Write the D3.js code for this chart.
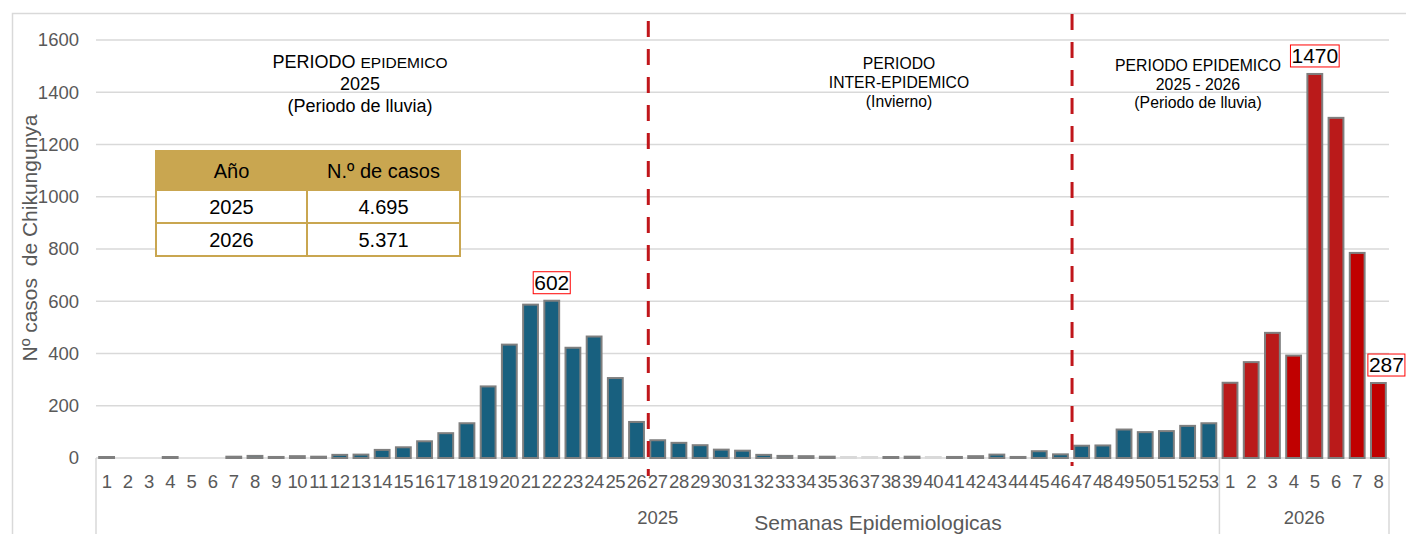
<!DOCTYPE html>
<html>
<head>
<meta charset="utf-8">
<script src="https://cdn.jsdelivr.net/npm/d3@7"></script>
<style>
  html, body { margin: 0; padding: 0; background: #fff; }
  svg { display: block; font-family: "Liberation Sans", Arial, sans-serif; }
</style>
</head>
<body>
<div id="chart"></div>
<script>
// casos semanales 2025 (SE 1-53) y 2026 (SE 1-8)
const weeks2025 = d3.range(1, 54);
const cases2025 = [3, 0, 0, 3, 0, 0, 5, 8, 4, 7, 5, 12, 13, 31, 41, 64, 95, 133, 274, 434,
  587, 602, 422, 465, 306, 138, 68, 58, 49, 32, 28, 12, 8, 7, 5, 2, 2, 3, 5, 1,
  4, 7, 13, 4, 26, 14, 47, 48, 109, 99, 103, 123, 133];
const weeks2026 = d3.range(1, 9);
const cases2026 = [288, 367, 479, 392, 1470, 1302, 785, 287];
const yTicks = [0, 200, 400, 600, 800, 1000, 1200, 1400, 1600];
const tableRows = [["2025", "4.695"], ["2026", "5.371"]];
const highlighted = ["2025-22", "2026-5", "2026-8"];
const brightRed = ["2026-4", "2026-7", "2026-8"];

const width = 1406;
const height = 534;

const bars = [
  ...weeks2025.map((w, i) => ({ year: 2025, week: w, value: cases2025[i] })),
  ...weeks2026.map((w, i) => ({ year: 2026, week: w, value: cases2026[i] }))
];
bars.forEach((d, i) => { d.i = i; d.key = d.year + "-" + d.week; });

const svg = d3.select("#chart").append("svg")
  .attr("width", width)
  .attr("height", height);

// borde del área del gráfico
svg.append("path")
  .attr("d", `M12.5,${height}V13.5H${width}`)
  .attr("fill", "none")
  .attr("stroke", "#d9d9d9")
  .attr("stroke-width", 1.5);

const x = d3.scaleBand()
  .domain(bars.map(d => d.i))
  .range([96, 1389])
  .paddingInner(0.3)
  .paddingOuter(0.15);

const y = d3.scaleLinear().domain([0, 1600]).range([458, 40]);

// grilla
svg.append("g")
  .selectAll("line")
  .data(yTicks)
  .join("line")
  .attr("x1", 96).attr("x2", 1389)
  .attr("y1", d => y(d)).attr("y2", d => y(d))
  .attr("stroke", "#d9d9d9")
  .attr("stroke-width", 1.5);

// eje y
const yAxis = svg.append("g")
  .attr("transform", "translate(79,0)")
  .call(d3.axisLeft(y).tickValues(yTicks).tickFormat(d3.format("d")).tickSize(0).tickPadding(0));
yAxis.select(".domain").remove();
yAxis.selectAll("text")
  .attr("font-size", 18.5)
  .attr("font-family", "Liberation Sans, Arial, sans-serif")
  .attr("fill", "#595959");

svg.append("text")
  .attr("transform", "translate(37,238) rotate(-90)")
  .attr("text-anchor", "middle")
  .attr("font-size", 21)
  .attr("fill", "#595959")
  .attr("xml:space", "preserve")
  .text("Nº casos  de Chikungunya");

// eje x multinivel
const groupEdges = [96, x(53) - x.step() * x.paddingInner() / 2, 1389];
svg.append("g")
  .selectAll("line")
  .data(groupEdges)
  .join("line")
  .attr("x1", d => d).attr("x2", d => d)
  .attr("y1", 458).attr("y2", 534)
  .attr("stroke", "#d9d9d9")
  .attr("stroke-width", 1.5);

svg.append("g")
  .selectAll("text")
  .data(bars)
  .join("text")
  .attr("x", d => x(d.i) + x.bandwidth() / 2)
  .attr("y", 488)
  .attr("text-anchor", "middle")
  .attr("font-size", 18.5)
  .attr("letter-spacing", -0.4)
  .attr("fill", "#595959")
  .text(d => d.week);

svg.append("text")
  .attr("x", (groupEdges[0] + groupEdges[1]) / 2)
  .attr("y", 524)
  .attr("text-anchor", "middle")
  .attr("font-size", 18.5)
  .attr("fill", "#595959")
  .text("2025");

svg.append("text")
  .attr("x", (groupEdges[1] + groupEdges[2]) / 2)
  .attr("y", 524)
  .attr("text-anchor", "middle")
  .attr("font-size", 18.5)
  .attr("fill", "#595959")
  .text("2026");

svg.append("text")
  .attr("x", 878)
  .attr("y", 530)
  .attr("text-anchor", "middle")
  .attr("font-size", 21)
  .attr("fill", "#595959")
  .text("Semanas Epidemiologicas");

// barras
svg.append("g")
  .selectAll("rect")
  .data(bars.filter(d => d.value > 0))
  .join("rect")
  .attr("x", d => x(d.i))
  .attr("y", d => Math.min(y(d.value), y(0) - 1))
  .attr("width", x.bandwidth())
  .attr("height", d => Math.max(1, y(0) - y(d.value)))
  .attr("fill", d => d.year === 2025 ? "#18607f" : (brightRed.includes(d.key) ? "#c00000" : "#ba1a1a"))
  .attr("stroke", d => d.value < 3 ? "#d9d9d9" : "#7f7f7f")
  .attr("stroke-width", 2);

// etiquetas destacadas (la última va corrida a la derecha)
const labels = svg.append("g")
  .selectAll("g")
  .data(bars.filter(d => highlighted.includes(d.key)))
  .join("g")
  .attr("transform", d => {
    const shift = d.key === "2026-8" ? 8 : 0;
    return `translate(${x(d.i) + x.bandwidth() / 2 + shift},${y(d.value) - 11})`;
  });

labels.append("text")
  .attr("text-anchor", "middle")
  .attr("font-size", 21)
  .attr("fill", "#000")
  .text(d => d.value);

labels.each(function () {
  const g = d3.select(this);
  const bb = g.select("text").node().getBBox();
  g.insert("rect", "text")
    .attr("x", bb.x - 1)
    .attr("y", bb.y + 1)
    .attr("width", bb.width + 2)
    .attr("height", bb.height - 1)
    .attr("fill", "#fff")
    .attr("stroke", "#ff0000")
    .attr("stroke-width", 1);
});

// líneas de separación de periodos
const splitLines = [
  { x: x(26) - 2, y1: 21, y2: 476 },
  { x: x(46) - x.step() * x.paddingInner() / 2 + 1, y1: 14, y2: 466 }
];
svg.append("g")
  .selectAll("line")
  .data(splitLines)
  .join("line")
  .attr("x1", d => d.x).attr("x2", d => d.x)
  .attr("y1", d => d.y1).attr("y2", d => d.y2)
  .attr("stroke", "#c0161b")
  .attr("stroke-width", 3)
  .attr("stroke-dasharray", "16,12");

// textos de periodos
const p1 = svg.append("text")
  .attr("text-anchor", "middle")
  .attr("fill", "#000");
const p1a = p1.append("tspan").attr("x", 360).attr("y", 68).attr("font-size", 18);
p1a.append("tspan").text("PERIODO ");
p1a.append("tspan").attr("font-size", 15.5).text("EPIDEMICO");
p1.append("tspan").attr("x", 360).attr("y", 90).attr("font-size", 18).text("2025");
p1.append("tspan").attr("x", 360).attr("y", 112).attr("font-size", 18).text("(Periodo de lluvia)");

const p2 = svg.append("text")
  .attr("text-anchor", "middle")
  .attr("font-size", 15.7)
  .attr("fill", "#000");
["PERIODO", "INTER-EPIDEMICO", "(Invierno)"].forEach((t, i) => {
  p2.append("tspan").attr("x", 899).attr("y", 69 + i * 19).text(t);
});

const p3 = svg.append("text")
  .attr("text-anchor", "middle")
  .attr("font-size", 15.8)
  .attr("fill", "#000");
["PERIODO EPIDEMICO", "2025 - 2026", "(Periodo de lluvia)"].forEach((t, i) => {
  p3.append("tspan").attr("x", 1198).attr("y", 71 + i * 18.5).text(t);
});

// tabla resumen
const tx = 156, ty = 151, colW = [151, 153], headH = 39, rowH = 33;
const gold = "#c9a650";
const table = svg.append("g");
table.append("rect")
  .attr("x", tx).attr("y", ty)
  .attr("width", colW[0] + colW[1]).attr("height", headH + rowH * tableRows.length)
  .attr("fill", "#fff");
table.append("rect")
  .attr("x", tx).attr("y", ty)
  .attr("width", colW[0] + colW[1]).attr("height", headH)
  .attr("fill", gold);
["Año", "N.º de casos"].forEach((t, c) => {
  table.append("text")
    .attr("x", tx + (c === 0 ? colW[0] / 2 : colW[0] + colW[1] / 2))
    .attr("y", ty + 27)
    .attr("text-anchor", "middle")
    .attr("font-size", 20)
    .attr("fill", "#000")
    .text(t);
});
tableRows.forEach((row, r) => {
  row.forEach((t, c) => {
    table.append("text")
      .attr("x", tx + (c === 0 ? colW[0] / 2 : colW[0] + colW[1] / 2))
      .attr("y", ty + headH + rowH * r + 24)
      .attr("text-anchor", "middle")
      .attr("font-size", 20)
      .attr("fill", "#000")
      .text(t);
  });
});
const tableLines = [
  [tx, ty + headH, tx + colW[0] + colW[1], ty + headH],
  [tx, ty + headH + rowH, tx + colW[0] + colW[1], ty + headH + rowH],
  [tx + colW[0], ty + headH, tx + colW[0], ty + headH + rowH * 2]
];
table.selectAll("line")
  .data(tableLines)
  .join("line")
  .attr("x1", d => d[0]).attr("y1", d => d[1])
  .attr("x2", d => d[2]).attr("y2", d => d[3])
  .attr("stroke", gold)
  .attr("stroke-width", 2);
table.append("rect")
  .attr("x", tx).attr("y", ty)
  .attr("width", colW[0] + colW[1]).attr("height", headH + rowH * tableRows.length)
  .attr("fill", "none")
  .attr("stroke", gold)
  .attr("stroke-width", 2);
</script>
</body>
</html>
